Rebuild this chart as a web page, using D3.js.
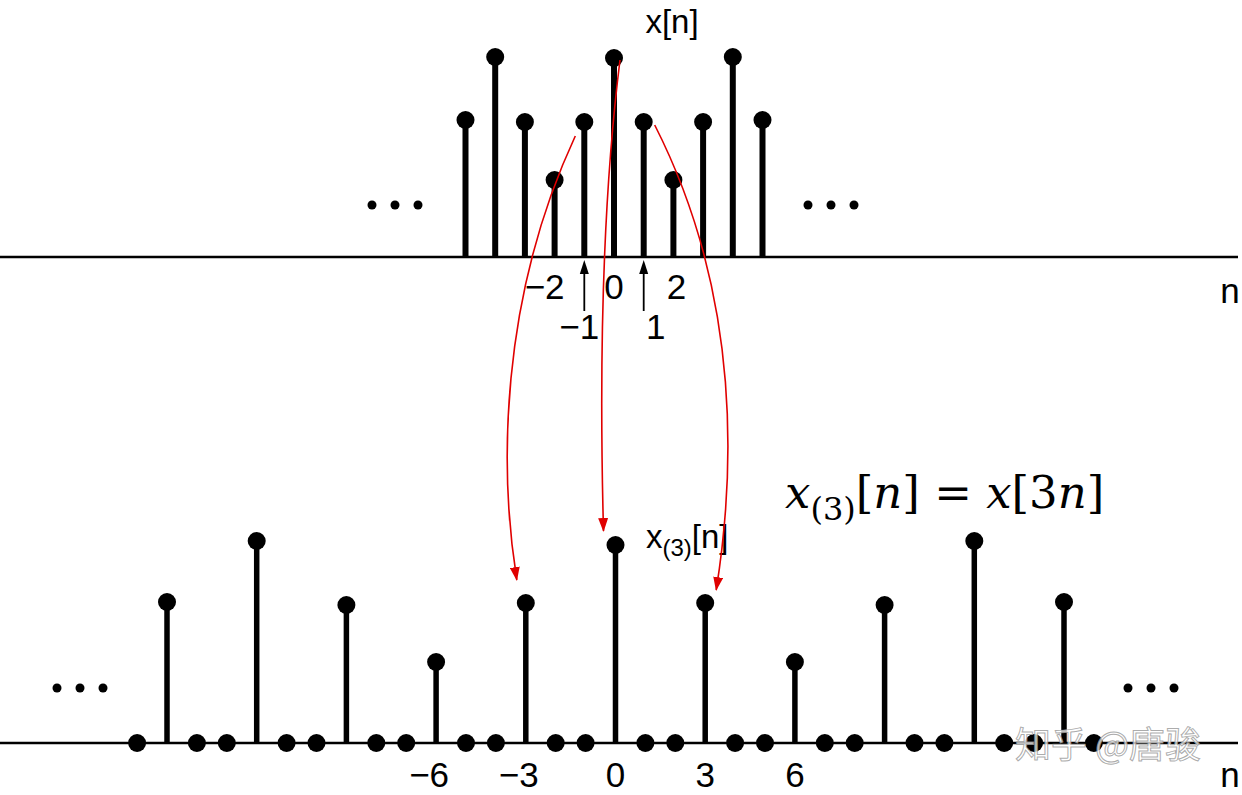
<!DOCTYPE html>
<html><head><meta charset="utf-8">
<script src="https://cdn.jsdelivr.net/npm/d3@7/dist/d3.min.js"></script>
<style>html,body{margin:0;padding:0;background:#fff;overflow:hidden}</style>
</head><body>
<svg id="c" width="1242" height="795"></svg>
<script>
// data
const topN = [-5,-4,-3,-2,-1,0,1,2,3,4,5];
const topVals = [0.685,1.0,0.675,0.385,0.675,0.995,0.675,0.385,0.675,1.0,0.685];
const botN = [-15,-12,-9,-6,-3,0,3,6,9,12,15];
const botVals = [0.705,1.01,0.69,0.405,0.70,0.99,0.70,0.405,0.69,1.01,0.705];
const botZeroN = d3.range(-16,17).filter(n => n % 3 !== 0);
const topTicksRow1 = [{n:-2,t:"\u22122"},{n:0,t:"0"},{n:2,t:"2"}];
const topTicksRow2 = [{n:-1,t:"\u22121"},{n:1,t:"1"}];
const botTicks = [-6,-3,0,3,6];

const svg = d3.select("#c");
const xTop = d3.scaleLinear().domain([0,1]).range([614,643.7]);
const xBot = d3.scaleLinear().domain([0,1]).range([615.5,645.4]);
const yTop = d3.scaleLinear().domain([0,1]).range([257,57]);
const yBot = d3.scaleLinear().domain([0,1]).range([743,543]);

const font = "'Liberation Sans', Arial, sans-serif";

// axes lines
svg.append("line").attr("x1",0).attr("x2",1238).attr("y1",yTop(0)).attr("y2",yTop(0)).attr("stroke","#000").attr("stroke-width",2.5);
svg.append("line").attr("x1",0).attr("x2",1238).attr("y1",yBot(0)).attr("y2",yBot(0)).attr("stroke","#000").attr("stroke-width",2.5);

// top stems
const gt = svg.append("g");
topN.forEach((n,i)=>{
  gt.append("line").attr("x1",xTop(n)).attr("x2",xTop(n)).attr("y1",yTop(0)).attr("y2",yTop(topVals[i])).attr("stroke","#000").attr("stroke-width",6);
  gt.append("circle").attr("cx",xTop(n)).attr("cy",yTop(topVals[i])).attr("r",9).attr("fill","#000");
});
// bottom stems
const gb = svg.append("g");
botN.forEach((n,i)=>{
  gb.append("line").attr("x1",xBot(n)).attr("x2",xBot(n)).attr("y1",yBot(0)).attr("y2",yBot(botVals[i])).attr("stroke","#000").attr("stroke-width",5.5);
  gb.append("circle").attr("cx",xBot(n)).attr("cy",yBot(botVals[i])).attr("r",9).attr("fill","#000");
});
botZeroN.forEach(n=>{
  gb.append("circle").attr("cx",xBot(n)).attr("cy",yBot(0)).attr("r",9).attr("fill","#000");
});

// ellipses
function dots(cx, cy){
  [-23,0,23].forEach(dx=>svg.append("circle").attr("cx",cx+dx).attr("cy",cy).attr("r",4.5).attr("fill","#000"));
}
dots(395,205); dots(831,205); dots(80,688); dots(1151,688);

// top tick labels
const fs = 35;
topTicksRow1.forEach(d=>{
  svg.append("text").attr("x",xTop(d.n) + (d.n<0?-10:(d.n>0?3:0))).attr("y",299).attr("text-anchor","middle")
    .attr("font-family",font).attr("font-size",fs).text(d.t);
});
topTicksRow2.forEach(d=>{
  svg.append("text").attr("x",xTop(d.n) + (d.n<0?-5:12)).attr("y",339).attr("text-anchor","middle")
    .attr("font-family",font).attr("font-size",fs).text(d.t);
  const x = xTop(d.n);
  svg.append("line").attr("x1",x).attr("x2",x).attr("y1",311).attr("y2",268).attr("stroke","#000").attr("stroke-width",1.8);
  svg.append("path").attr("d",`M${x-4.5},${274}L${x},${260}L${x+4.5},${274}Z`).attr("fill","#000");
});
// bottom tick labels
botTicks.forEach(n=>{
  svg.append("text").attr("x",xBot(n) + (n<0?-7:0)).attr("y",787).attr("text-anchor","middle")
    .attr("font-family",font).attr("font-size",fs).text(n<0?"\u2212"+(-n):String(n));
});
// n labels
svg.append("text").attr("x",1230).attr("y",303).attr("text-anchor","middle").attr("font-family",font).attr("font-size",fs).text("n");
svg.append("text").attr("x",1230).attr("y",787).attr("text-anchor","middle").attr("font-family",font).attr("font-size",fs).text("n");
// titles
svg.append("text").attr("x",672).attr("y",33).attr("text-anchor","middle").attr("font-family",font).attr("font-size",33).text("x[n]");
const t2 = svg.append("text").attr("x",646).attr("y",548).attr("font-family",font).attr("font-size",33);
t2.append("tspan").text("x");
t2.append("tspan").attr("font-size",24).attr("dy",8).text("(3)");
t2.append("tspan").attr("dy",-8).text("[n]");

// formula
const serif = "'DejaVu Serif', 'Liberation Serif', serif";
const f = svg.append("text").attr("x",785).attr("y",508).attr("font-family",serif).attr("font-size",45);
f.append("tspan").attr("font-style","italic").text("x");
f.append("tspan").attr("font-size",32).attr("dy",12).text("(3)");
f.append("tspan").attr("dy",-12).text("[");
f.append("tspan").attr("font-style","italic").text("n");
f.append("tspan").text("] = ");
f.append("tspan").attr("font-style","italic").text("x");
f.append("tspan").text("[3");
f.append("tspan").attr("font-style","italic").text("n");
f.append("tspan").text("]");

// red arrows
const defs = svg.append("defs");
defs.append("marker").attr("id","ah").attr("viewBox","0 0 14 10").attr("refX",13).attr("refY",5)
  .attr("markerWidth",14).attr("markerHeight",10).attr("markerUnits","userSpaceOnUse").attr("orient","auto")
  .append("path").attr("d","M0,0L14,5L0,10Z").attr("fill","#e00000");
const arrows = [
  `M${xTop(-1)-9},136 C${xTop(-1)-85},300 ${xTop(-1)-85},470 ${xBot(-3)-9},580`,
  `M${xTop(0)+6},60 C${xTop(0)-14},220 ${xTop(0)-14},400 ${xBot(0)-12},531`,
  `M${xTop(1)+11},125 C${xTop(1)+100},300 ${xTop(1)+90},480 ${xBot(3)+11},590`
];
arrows.forEach(d=>{
  svg.append("path").attr("d",d).attr("fill","none").attr("stroke","#e00000").attr("stroke-width",1.6).attr("marker-end","url(#ah)");
});

// watermark
svg.append("text").attr("x",1015).attr("y",758).attr("font-family","'Noto Sans CJK SC', sans-serif").attr("font-size",36)
  .attr("fill","rgba(255,255,255,0.75)").attr("stroke","rgba(150,150,150,0.8)").attr("stroke-width",1).text("知乎 @唐骏");
</script>
</body></html>
